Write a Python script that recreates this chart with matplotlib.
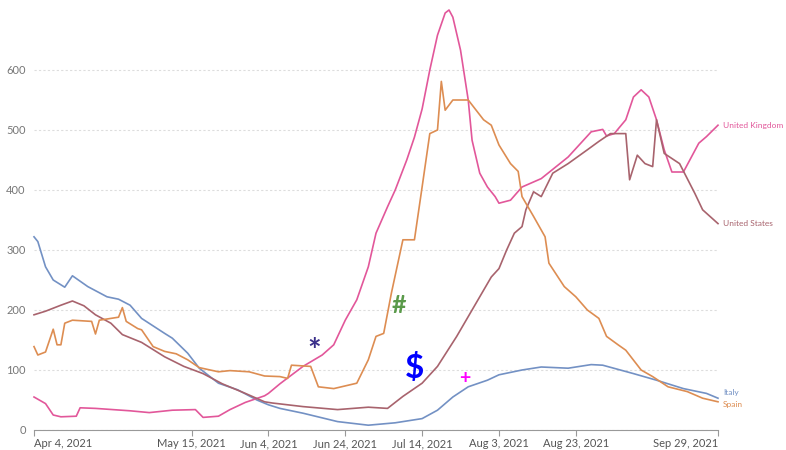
import pandas as pd
import matplotlib
matplotlib.use("Agg")
from matplotlib import pyplot as plt

plt.rcParams['font.family'] = ['Lato', 'DejaVu Sans']

start = pd.Timestamp('2021-04-04')

# day offsets from Apr 4, 2021 and values
italy_days = [0, 1, 3, 5, 8, 10, 14, 19, 22, 25, 28, 34, 36, 40, 43, 48, 53, 58, 61, 64,
              70, 79, 87, 94, 101, 105, 109, 113, 118, 121, 127, 132, 139, 145, 148, 156,
              162, 169, 175, 178]
italy_vals = [322, 314, 272, 250, 238, 257, 239, 222, 218, 208, 186, 161, 153, 128, 103, 78,
              67, 50, 42, 36, 28, 14, 8, 12, 19, 33, 55, 72, 83, 92, 100, 105, 103, 109, 108,
              94, 83, 69, 61, 53]

uk_days = [0, 3, 5, 7, 11, 12, 16, 25, 30, 36, 42, 44, 48, 51, 55, 60, 61, 64, 70, 75, 78,
           81, 84, 87, 89, 92, 94, 97, 99, 101, 103, 105, 107, 108, 109, 111, 113, 114, 116,
           118, 120, 121, 124, 127, 132, 139, 145, 148, 149, 151, 154, 156, 158, 160, 162,
           164, 166, 169, 173, 175, 178]
uk_vals = [55, 44, 25, 22, 23, 37, 36, 32, 29, 33, 34, 21, 23, 34, 46, 57, 61, 77, 106, 125,
           142, 183, 217, 272, 328, 372, 400, 450, 488, 535, 600, 658, 695, 700, 688, 633, 550,
           483, 428, 405, 389, 378, 383, 405, 419, 455, 497, 501, 490, 494, 517, 555, 567, 555,
           517, 467, 430, 430, 478, 489, 508]

us_days = [0, 3, 7, 10, 13, 16, 20, 23, 28, 34, 39, 44, 49, 55, 60, 62, 70, 79, 87, 92, 96,
           101, 105, 110, 115, 119, 121, 123, 125, 127, 128, 130, 132, 135, 139, 144, 147, 150,
           154, 155, 157, 159, 161, 162, 164, 168, 172, 174, 178]
us_vals = [192, 198, 208, 215, 207, 192, 178, 159, 146, 122, 106, 94, 77, 61, 47, 45, 39, 34,
           38, 36, 56, 78, 106, 156, 211, 255, 269, 300, 328, 339, 367, 397, 389, 428, 444, 467,
           481, 494, 494, 417, 458, 444, 439, 517, 461, 444, 394, 367, 344]

spain_days = [0, 1, 3, 5, 6, 7, 8, 10, 15, 16, 17, 22, 23, 24, 27, 28, 31, 34, 37, 40, 43, 48,
              51, 56, 60, 64, 66, 67, 72, 74, 78, 84, 87, 89, 91, 93, 96, 99, 101, 103, 105,
              106, 107, 109, 113, 117, 119, 121, 124, 126, 127, 130, 133, 134, 138, 141, 144,
              147, 149, 152, 154, 158, 161, 165, 170, 174, 178]
spain_vals = [139, 125, 130, 168, 142, 142, 178, 183, 181, 160, 183, 188, 204, 181, 169, 167,
              139, 131, 127, 117, 104, 97, 99, 97, 90, 89, 86, 108, 106, 72, 69, 78, 117, 156,
              161, 228, 317, 317, 405, 494, 500, 581, 533, 550, 550, 517, 508, 475, 444, 431,
              389, 356, 322, 278, 239, 222, 200, 186, 156, 142, 133, 100, 89, 72, 64, 53, 47]

countries = ['Italy', 'United Kingdom', 'United States', 'Spain']
colors = ['#7391c4', '#e2579a', '#a8636d', '#dd8d52']
series = [(italy_days, italy_vals), (uk_days, uk_vals), (us_days, us_vals),
          (spain_days, spain_vals)]

tick_dates = ['2021-04-04', '2021-05-15', '2021-06-04', '2021-06-24', '2021-07-14',
              '2021-08-03', '2021-08-23', '2021-09-29']
tick_labels = ['Apr 4, 2021', 'May 15, 2021', 'Jun 4, 2021', 'Jun 24, 2021', 'Jul 14, 2021',
               'Aug 3, 2021', 'Aug 23, 2021', 'Sep 29, 2021']
y_ticks = [0, 100, 200, 300, 400, 500, 600]

# symbols drawn on the chart: (text, day offset, value, colour, size)
symbols = [('*', 73, 130, '#3a2f8a', 23),
           ('#', 95, 208, '#5a9a4a', 18),
           ('$', 99, 103, '#0000ff', 24),
           ('+', 112, 85, '#ff00ff', 14)]


def to_dates(days):
    return start + pd.to_timedelta(days, unit='D')


fig = plt.figure(figsize=(7.86, 4.5), dpi=100)
ax = fig.add_axes([34 / 786, 20 / 450, 684 / 786, 420 / 450])

for name, col, (d, v) in zip(countries, colors, series):
    ax.plot(to_dates(d), v, color=col, lw=1.2, clip_on=False, zorder=3)

end = to_dates([178])[0]
label_pos = {'United Kingdom': 508, 'United States': 344, 'Italy': 62, 'Spain': 42}
for name, col in zip(countries, colors):
    ax.text(end + pd.Timedelta(days=1.3), label_pos[name], name, color=col, fontsize=6,
            va='center', ha='left', clip_on=False)

for s, d, v, col, size in symbols:
    ax.text(to_dates([d])[0], v, s, color=col, fontsize=size, fontweight='bold',
            ha='center', va='center', zorder=4)

ax.set_xlim(start, end)
ax.set_ylim(0, 700)
ax.set_yticks(y_ticks)
ax.set_yticklabels([str(t) for t in y_ticks], color='#777777', fontsize=8)
ax.yaxis.grid(True, linestyle=(0, (2, 2)), color='#dddddd', lw=0.8)
ax.tick_params(axis='y', length=0, pad=6)

ax.set_xticks(pd.to_datetime(tick_dates))
ax.set_xticklabels(tick_labels, color='#555555', fontsize=8)
ax.tick_params(axis='x', length=4, color='#999999', pad=2)
xl = ax.get_xticklabels()
xl[0].set_ha('left')
xl[-1].set_ha('right')

for sp in ['top', 'right', 'left']:
    ax.spines[sp].set_visible(False)
ax.spines['bottom'].set_color('#999999')
ax.spines['bottom'].set_linewidth(0.8)

fig.savefig('out.png', dpi=100)
